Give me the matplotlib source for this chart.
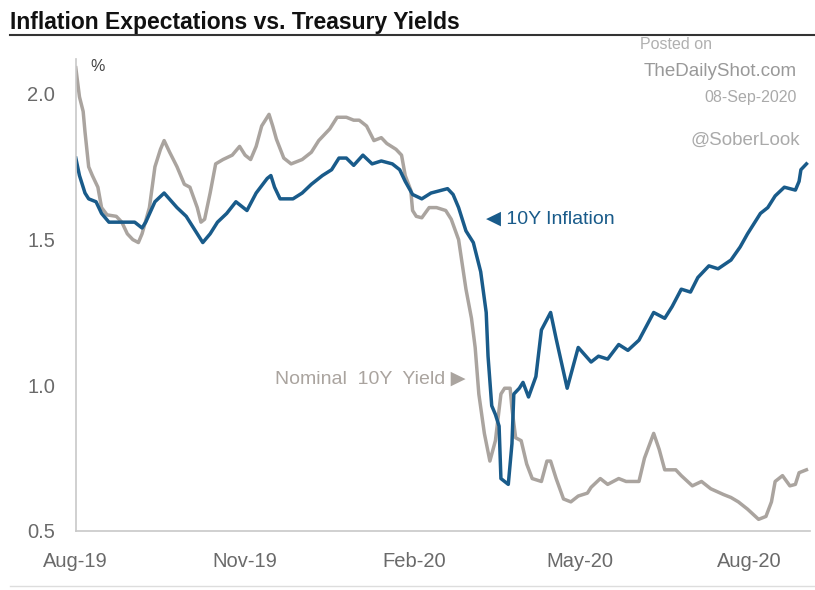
import pandas as pd
import matplotlib
matplotlib.use("Agg")
import matplotlib.pyplot as plt
import matplotlib.dates as mdates

infl_dates = ["2019-08-01", "2019-08-03", "2019-08-06", "2019-08-08", "2019-08-12", "2019-08-15",
              "2019-08-19", "2019-08-25", "2019-08-29", "2019-09-02", "2019-09-06", "2019-09-08",
              "2019-09-13", "2019-09-18", "2019-09-25", "2019-09-30", "2019-10-06", "2019-10-09",
              "2019-10-13", "2019-10-17", "2019-10-22", "2019-10-27", "2019-11-02", "2019-11-07",
              "2019-11-13", "2019-11-15", "2019-11-17", "2019-11-20", "2019-11-27", "2019-12-02",
              "2019-12-07", "2019-12-13", "2019-12-18", "2019-12-22", "2019-12-26", "2019-12-30",
              "2020-01-04", "2020-01-09", "2020-01-14", "2020-01-20", "2020-01-24", "2020-01-27",
              "2020-01-31", "2020-02-05", "2020-02-10", "2020-02-19", "2020-02-22", "2020-02-25",
              "2020-02-29", "2020-03-04", "2020-03-08", "2020-03-11", "2020-03-12", "2020-03-14",
              "2020-03-16", "2020-03-18", "2020-03-19", "2020-03-23", "2020-03-25", "2020-03-26",
              "2020-03-29", "2020-03-31", "2020-04-03", "2020-04-07", "2020-04-10", "2020-04-15",
              "2020-04-18", "2020-04-24", "2020-04-30", "2020-05-07", "2020-05-11", "2020-05-16",
              "2020-05-22", "2020-05-27", "2020-06-02", "2020-06-10", "2020-06-16", "2020-06-20",
              "2020-06-25", "2020-06-30", "2020-07-04", "2020-07-10", "2020-07-15", "2020-07-22",
              "2020-07-27", "2020-07-31", "2020-08-07", "2020-08-11", "2020-08-15", "2020-08-20",
              "2020-08-26", "2020-08-28", "2020-08-29", "2020-09-01"]
infl_vals = [1.78, 1.72, 1.66, 1.64, 1.63, 1.59,
             1.56, 1.56, 1.56, 1.56, 1.54, 1.56,
             1.63, 1.66, 1.61, 1.58, 1.52, 1.49,
             1.52, 1.56, 1.59, 1.63, 1.60, 1.66,
             1.71, 1.72, 1.68, 1.64, 1.64, 1.66,
             1.69, 1.72, 1.74, 1.78, 1.78, 1.755,
             1.79, 1.76, 1.77, 1.76, 1.74, 1.70,
             1.655, 1.64, 1.66, 1.675, 1.655, 1.61,
             1.53, 1.49, 1.39, 1.25, 1.10, 0.93,
             0.90, 0.86, 0.68, 0.66, 0.80, 0.97,
             0.99, 1.01, 0.96, 1.03, 1.19, 1.25,
             1.16, 0.99, 1.13, 1.08, 1.10, 1.09,
             1.14, 1.12, 1.155, 1.25, 1.23, 1.27,
             1.33, 1.32, 1.37, 1.41, 1.40, 1.43,
             1.475, 1.52, 1.59, 1.61, 1.65, 1.68,
             1.67, 1.70, 1.74, 1.76]

nom_dates = ["2019-08-01", "2019-08-03", "2019-08-05", "2019-08-06", "2019-08-08", "2019-08-10",
             "2019-08-13", "2019-08-15", "2019-08-18", "2019-08-23", "2019-08-26", "2019-08-29",
             "2019-09-01", "2019-09-04", "2019-09-06", "2019-09-10", "2019-09-13", "2019-09-16",
             "2019-09-18", "2019-09-21", "2019-09-25", "2019-09-29", "2019-10-02", "2019-10-06",
             "2019-10-08", "2019-10-10", "2019-10-13", "2019-10-16", "2019-10-20", "2019-10-25",
             "2019-10-29", "2019-11-01", "2019-11-04", "2019-11-07", "2019-11-10", "2019-11-14",
             "2019-11-16", "2019-11-18", "2019-11-22", "2019-11-26", "2019-12-02", "2019-12-07",
             "2019-12-11", "2019-12-17", "2019-12-21", "2019-12-26", "2019-12-30", "2020-01-02",
             "2020-01-06", "2020-01-10", "2020-01-14", "2020-01-17", "2020-01-22", "2020-01-25",
             "2020-01-27", "2020-01-30", "2020-01-31", "2020-02-02", "2020-02-05", "2020-02-09",
             "2020-02-13", "2020-02-18", "2020-02-21", "2020-02-25", "2020-02-29", "2020-03-03",
             "2020-03-05", "2020-03-07", "2020-03-10", "2020-03-13", "2020-03-16", "2020-03-19",
             "2020-03-21", "2020-03-24", "2020-03-25", "2020-03-27", "2020-03-30", "2020-04-02",
             "2020-04-05", "2020-04-10", "2020-04-13", "2020-04-15", "2020-04-18", "2020-04-22",
             "2020-04-26", "2020-04-30", "2020-05-05", "2020-05-07", "2020-05-12", "2020-05-16",
             "2020-05-22", "2020-05-26", "2020-06-02", "2020-06-05", "2020-06-10", "2020-06-13",
             "2020-06-16", "2020-06-22", "2020-06-25", "2020-07-01", "2020-07-06", "2020-07-11",
             "2020-07-18", "2020-07-22", "2020-07-26", "2020-07-31", "2020-08-06", "2020-08-10",
             "2020-08-13", "2020-08-15", "2020-08-19", "2020-08-23", "2020-08-26", "2020-08-28",
             "2020-09-01"]
nom_vals = [2.09, 1.99, 1.94, 1.87, 1.75, 1.72,
            1.68, 1.61, 1.585, 1.58, 1.56, 1.52,
            1.50, 1.49, 1.52, 1.61, 1.75, 1.81,
            1.84, 1.80, 1.75, 1.69, 1.68, 1.61,
            1.56, 1.57, 1.66, 1.76, 1.775, 1.79,
            1.82, 1.79, 1.775, 1.82, 1.89, 1.93,
            1.89, 1.845, 1.78, 1.76, 1.775, 1.80,
            1.84, 1.88, 1.92, 1.92, 1.91, 1.91,
            1.89, 1.84, 1.85, 1.83, 1.81, 1.79,
            1.72, 1.67, 1.60, 1.58, 1.575, 1.61,
            1.61, 1.60, 1.57, 1.50, 1.33, 1.23,
            1.13, 0.97, 0.835, 0.74, 0.81, 0.97,
            0.99, 0.99, 0.92, 0.82, 0.81, 0.73,
            0.68, 0.67, 0.74, 0.74, 0.68, 0.61,
            0.60, 0.62, 0.63, 0.65, 0.68, 0.66,
            0.68, 0.67, 0.67, 0.75, 0.835, 0.78,
            0.71, 0.71, 0.69, 0.655, 0.67, 0.645,
            0.625, 0.615, 0.60, 0.575, 0.54, 0.55,
            0.60, 0.67, 0.69, 0.655, 0.66, 0.70,
            0.71]

tick_dates = ["2019-08-01", "2019-11-01", "2020-02-01", "2020-05-01", "2020-08-01"]
y_ticks = [0.5, 1.0, 1.5, 2.0]

blue = "#195b8a"
gray = "#aaa49f"

plt.rcParams['font.family'] = ['Liberation Sans', 'DejaVu Sans']

fig = plt.figure(figsize=(8.15, 5.9), dpi=100)
ax = fig.add_axes([0.093, 0.1, 0.901, 0.8])

ax.plot(pd.to_datetime(nom_dates), nom_vals, color=gray, lw=2.5, solid_joinstyle='round')
ax.plot(pd.to_datetime(infl_dates), infl_vals, color=blue, lw=2.5, solid_joinstyle='round')

ax.set_ylim(0.5, 2.12)
ax.set_xlim(pd.Timestamp("2019-08-01"), pd.Timestamp("2020-09-03"))
ax.set_yticks(y_ticks)
ax.set_yticklabels(["0.5", "1.0", "1.5", "2.0"])
ax.set_xticks(pd.to_datetime(tick_dates))
ax.xaxis.set_major_formatter(mdates.DateFormatter('%b-%y'))
ax.tick_params(length=0, labelsize=14.5, labelcolor="#6a6a6a")
ax.tick_params(axis='y', pad=15)
ax.tick_params(axis='x', pad=15)

for s in ['top', 'right']:
    ax.spines[s].set_visible(False)
for s in ['left', 'bottom']:
    ax.spines[s].set_color("#c8c8c8")
    ax.spines[s].set_linewidth(1.2)

ax.text(0.02, 1.0, "%", transform=ax.transAxes, fontsize=11.5, color="#444444", va='top')

ax.text(pd.Timestamp("2020-03-11"), 1.57, "\u25c0 10Y Inflation", color=blue, fontsize=14, va='center')
ax.text(pd.Timestamp("2020-02-29"), 1.02, "Nominal  10Y  Yield \u25b6", color=gray, fontsize=14,
        va='center', ha='right')

fig.text(0.012, 0.962, "Inflation Expectations vs. Treasury Yields", fontsize=16.5, fontweight='bold',
         color="#111111", va='center')
fig.add_artist(plt.Line2D([0.012, 1.0], [0.940, 0.940], color="#333333", lw=1.5))
fig.add_artist(plt.Line2D([0.012, 1.0], [0.006, 0.006], color="#dddddd", lw=1.0))

fig.text(0.785, 0.925, "Posted on", fontsize=11.5, color="#b0b0b0", va='center')
fig.text(0.978, 0.878, "TheDailyShot.com", fontsize=13.5, color="#999999", va='center', ha='right')
fig.text(0.978, 0.834, "08-Sep-2020", fontsize=11.5, color="#aaaaaa", va='center', ha='right')
fig.text(0.982, 0.763, "@SoberLook", fontsize=13.5, color="#aaaaaa", va='center', ha='right')

fig.savefig("out.png", dpi=100)
